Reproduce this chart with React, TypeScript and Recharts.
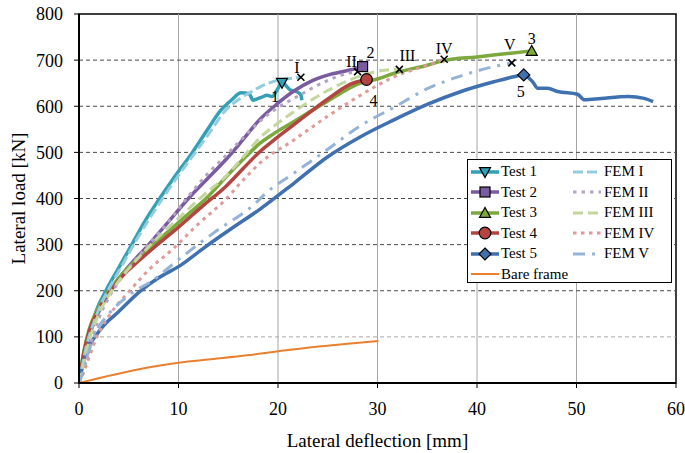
import React from "react";
import {
  Legend,
  Line,
  LineChart,
  ReferenceArea,
  ReferenceDot,
  ReferenceLine,
  XAxis,
  YAxis,
} from "recharts";

// ---------------------------------------------------------------------------
// Data (deflection [mm], load [kN])
// ---------------------------------------------------------------------------

const X_TICKS = [0, 10, 20, 30, 40, 50, 60];
const Y_TICKS = [0, 100, 200, 300, 400, 500, 600, 700, 800];
const GRID_X = [10, 20, 30, 40, 50];
const GRID_Y = [100, 200, 300, 400, 500, 600, 700];

const TEST_1: [number, number][] = [
  [0, 0], [0.3, 45], [0.7, 85], [1.2, 120], [1.8, 160], [2.7, 200], [4, 250],
  [5.3, 300], [6.6, 350], [8.1, 400], [9.7, 450], [11.4, 500], [12.9, 549],
  [14.2, 590], [15.3, 613], [16.3, 629], [17.1, 627], [17.5, 613], [17.9, 616],
  [18.4, 620], [18.9, 624], [19.4, 621], [19.9, 635], [20.4, 651], [21.2, 636],
  [22.0, 630], [22.3, 624], [22.4, 613],
];
const TEST_2: [number, number][] = [
  [0, 0], [0.5, 60], [1, 100], [2, 155], [3, 195], [4.5, 240], [7, 300],
  [9, 350], [11, 400], [13, 445], [15, 490], [16.5, 528], [18.2, 572],
  [19.9, 605], [21.6, 633], [23.3, 654], [24.9, 667], [27.3, 679], [28.5, 686],
];
const TEST_3: [number, number][] = [
  [0, 0], [0.5, 70], [1, 115], [2, 165], [3, 200], [4.5, 240], [6, 272],
  [8, 310], [10, 348], [12, 385], [13, 405], [14.7, 445], [16.5, 485],
  [18.2, 520], [19.9, 545], [21.6, 567], [24.9, 610], [28.3, 650], [30, 659],
  [31.6, 671], [35, 689], [36.7, 699], [40, 707], [43.4, 715], [45.5, 720],
];
const TEST_4: [number, number][] = [
  [0, 0], [0.5, 65], [1, 110], [2, 160], [3, 195], [4.5, 235], [6, 265],
  [8, 302], [10, 338], [12.5, 385], [14.7, 425], [16.5, 465], [18.2, 502],
  [19.9, 532], [21.6, 560], [24.9, 614], [27.3, 648], [28.9, 658],
];
const TEST_5: [number, number][] = [
  [0, 0], [0.4, 40], [0.9, 75], [1.6, 100], [2.5, 125], [4, 155], [6.1, 198],
  [8, 228], [10.2, 255], [12.5, 292], [15, 330], [18.2, 377], [21.6, 433],
  [24.9, 489], [28.3, 534], [31.6, 570], [35, 604], [38.4, 632], [41.7, 653],
  [43.7, 664], [44.7, 668], [45.6, 653], [46.1, 639], [47.1, 639], [48.1, 632],
  [50.1, 626], [50.8, 614], [52.5, 617], [55.2, 621], [56.8, 617], [57.7, 610],
];

const FEM_I: [number, number][] = [
  [0, 0], [0.4, 45], [0.8, 85], [1.3, 120], [2, 160], [2.9, 200], [4.2, 250],
  [5.5, 300], [6.9, 350], [8.4, 400], [10, 450], [11.7, 500], [13.2, 545],
  [14.6, 588], [16, 614], [17.2, 630], [18.2, 642], [19.9, 656], [21.6, 661],
  [22.3, 663],
];
const FEM_II: [number, number][] = [
  [0, 0], [0.5, 30], [1, 70], [2, 140], [3, 185], [4.5, 235], [6.8, 295],
  [9, 350], [11, 405], [13, 455], [14.7, 492], [16.5, 532], [18.2, 568],
  [19.9, 596], [21.6, 617], [24.9, 655], [26.9, 671], [28, 675],
];
const FEM_III: [number, number][] = [
  [0, 0], [0.5, 45], [1, 90], [2, 150], [3, 190], [4.5, 235], [6, 272],
  [8, 317], [10, 357], [12.5, 407], [14.7, 447], [16.5, 490], [18.2, 532],
  [19.9, 562], [21.6, 588], [24.9, 633], [28.3, 666], [30.3, 677], [32.2, 680],
];
const FEM_IV: [number, number][] = [
  [0, 0], [0.6, 30], [1, 55], [1.8, 100], [3, 145], [5.1, 200], [7, 245],
  [9.4, 290], [12, 345], [14.7, 397], [16.5, 440], [18.2, 477], [21.6, 527],
  [24.9, 577], [28.3, 624], [31.6, 663], [35, 689], [36.7, 702],
];
const FEM_V: [number, number][] = [
  [0, 0], [0.5, 30], [1, 70], [1.7, 110], [3, 150], [5, 190], [7.5, 224],
  [10.2, 271], [13.5, 325], [17.9, 393], [18.6, 408], [21.6, 455], [24.9, 505],
  [28.3, 558], [31.6, 597], [35, 638], [38.4, 666], [41.7, 686], [43.5, 694],
];
const BARE_FRAME: [number, number][] = [
  [0, 0], [3.5, 18], [6.8, 33], [10, 44], [13.5, 52], [16.9, 60], [20.1, 69],
  [23.6, 78], [27, 85], [30.1, 91],
];

// peak markers of the tests and end points of the FE runs
const TEST_PEAKS: [number, number][] = [
  [20.4, 651], [28.5, 686], [45.5, 720], [28.9, 658], [44.7, 668],
];
const TEST_PEAK_LABELS = ["1", "2", "3", "4", "5"];
const FEM_ENDS: [number, number][] = [
  [22.3, 663], [28, 675], [32.2, 680], [36.7, 702], [43.5, 694],
];
const FEM_END_LABELS = ["I", "II", "III", "IV", "V"];

// ---------------------------------------------------------------------------
// Styles
// ---------------------------------------------------------------------------

const FONT = "'Liberation Serif', 'Times New Roman', serif";

type MarkerKind = "triDown" | "square" | "triUp" | "circle" | "diamond";

const TESTS = [
  { name: "Test 1", data: TEST_1, color: "#33A0B6", marker: "triDown" as MarkerKind },
  { name: "Test 2", data: TEST_2, color: "#7A5BA0", marker: "square" as MarkerKind },
  { name: "Test 3", data: TEST_3, color: "#7DA83E", marker: "triUp" as MarkerKind },
  { name: "Test 4", data: TEST_4, color: "#B3443F", marker: "circle" as MarkerKind },
  { name: "Test 5", data: TEST_5, color: "#3F70B0", marker: "diamond" as MarkerKind },
];

const FEMS = [
  { name: "FEM I", data: FEM_I, color: "#93CDDD", dash: "10 4" },
  { name: "FEM II", data: FEM_II, color: "#B3A2C7", dash: "3.5 5" },
  { name: "FEM III", data: FEM_III, color: "#C3D69B", dash: "10 5" },
  { name: "FEM IV", data: FEM_IV, color: "#E09A98", dash: "3.5 4.5" },
  { name: "FEM V", data: FEM_V, color: "#95B3D7", dash: "12 7 3 7" },
];

const BARE = { name: "Bare frame", data: BARE_FRAME, color: "#E8802F" };

// label offsets (px) relative to the marker
const TEST_LABEL_OFFSET = [[-7, 14], [8, -14], [0, -12], [7, 21], [-3, 17]];
const FEM_LABEL_OFFSET = [[-4, -10], [-6, -10], [8, -14], [0, -11], [-2, -18]];

const toPoints = (rows: [number, number][]) => rows.map(([x, y]) => ({ x, y }));

function Marker({ kind, cx, cy, fill }: { kind: MarkerKind; cx: number; cy: number; fill: string }) {
  const h = 5.5;
  const common = { fill, stroke: "#000", strokeWidth: 1.2 };
  switch (kind) {
    case "triDown":
      return <polygon points={`${cx - h},${cy - h * 0.8} ${cx + h},${cy - h * 0.8} ${cx},${cy + h}`} {...common} />;
    case "triUp":
      return <polygon points={`${cx - h},${cy + h * 0.8} ${cx + h},${cy + h * 0.8} ${cx},${cy - h}`} {...common} />;
    case "square":
      return <rect x={cx - 5} y={cy - 5} width={10} height={10} {...common} />;
    case "circle":
      return <circle cx={cx} cy={cy} r={5.8} {...common} />;
    default:
      return <polygon points={`${cx},${cy - 6} ${cx + 6},${cy} ${cx},${cy + 6} ${cx - 6},${cy}`} {...common} />;
  }
}

function Cross({ cx, cy }: { cx: number; cy: number }) {
  const s = 3.5;
  return (
    <g stroke="#000" strokeWidth={1.6}>
      <line x1={cx - s} y1={cy - s} x2={cx + s} y2={cy + s} />
      <line x1={cx - s} y1={cy + s} x2={cx + s} y2={cy - s} />
    </g>
  );
}

function LegendBox() {
  const row = (i: number) => ({ position: "absolute" as const, top: 1.25 + i * 20.5, height: 20.5, display: "flex", alignItems: "center" });
  const text = { fontFamily: FONT, fontSize: 15, color: "#000", marginLeft: 2, whiteSpace: "nowrap" as const };
  return (
    <div
      style={{
        position: "relative",
        width: 205,
        height: 124,
        boxSizing: "border-box",
        border: "1.5px solid #000",
        background: "#fff",
      }}
    >
      {TESTS.map((s, i) => (
        <div key={s.name} style={{ ...row(i), left: 3 }}>
          <svg width={28} height={14}>
            <line x1={0} y1={7} x2={28} y2={7} stroke={s.color} strokeWidth={3.5} />
            <Marker kind={s.marker} cx={14} cy={7} fill={s.color} />
          </svg>
          <span style={text}>{s.name}</span>
        </div>
      ))}
      <div style={{ ...row(5), left: 3 }}>
        <svg width={28} height={14}>
          <line x1={0} y1={7} x2={28} y2={7} stroke={BARE.color} strokeWidth={2} />
        </svg>
        <span style={text}>{BARE.name}</span>
      </div>
      {FEMS.map((s, i) => (
        <div key={s.name} style={{ ...row(i), left: 105 }}>
          <svg width={28} height={14}>
            <line x1={0} y1={7} x2={28} y2={7} stroke={s.color} strokeWidth={3} strokeDasharray={s.dash} />
          </svg>
          <span style={{ ...text, marginLeft: 3 }}>{s.name}</span>
        </div>
      ))}
    </div>
  );
}

export default function App() {
  const tick = { fill: "#000", fontSize: 18, fontFamily: FONT };
  return (
    <div>
      <style>{"html,body{margin:0;padding:0;overflow:hidden;background:#fff}"}</style>
      <LineChart width={685} height={453} margin={{ top: 14, right: 9, left: 0, bottom: 0 }}>
        <XAxis
          type="number"
          dataKey="x"
          domain={[0, 60]}
          ticks={X_TICKS}
          allowDataOverflow
          height={70}
          tick={tick}
          tickSize={5}
          tickMargin={14}
          axisLine={{ stroke: "#000", strokeWidth: 2 }}
          tickLine={{ stroke: "#000" }}
          label={{
            value: "Lateral deflection [mm]",
            position: "insideBottom",
            offset: 6,
            style: { fill: "#000", fontSize: 19, fontFamily: FONT },
          }}
        />
        <YAxis
          type="number"
          domain={[0, 800]}
          ticks={Y_TICKS}
          allowDataOverflow
          width={79}
          tick={tick}
          tickSize={5}
          tickMargin={11}
          axisLine={{ stroke: "#000", strokeWidth: 2 }}
          tickLine={{ stroke: "#000" }}
          label={{
            value: "Lateral load [kN]",
            angle: -90,
            position: "center",
            dx: -21,
            style: { fill: "#000", fontSize: 19, fontFamily: FONT, textAnchor: "middle" },
          }}
        />

        {GRID_X.map((v) => (
          <ReferenceLine key={`gx${v}`} x={v} stroke="#A6A6A6" strokeWidth={1} />
        ))}
        {GRID_Y.map((v) => (
          <ReferenceLine
            key={`gy${v}`}
            y={v}
            stroke={v === 100 ? "#A8A8A8" : "#4A4A4A"}
            strokeWidth={1}
            strokeDasharray="4 3"
          />
        ))}
        <ReferenceArea x1={0} x2={60} y1={0} y2={800} fill="none" stroke="#000" strokeWidth={1.5} />

        {TESTS.map((s) => (
          <Line
            key={s.name}
            data={toPoints(s.data)}
            dataKey="y"
            name={s.name}
            type="monotone"
            stroke={s.color}
            strokeWidth={3.5}
            dot={false}
            activeDot={false}
            isAnimationActive={false}
          />
        ))}
        {FEMS.map((s) => (
          <Line
            key={s.name}
            data={toPoints(s.data)}
            dataKey="y"
            name={s.name}
            type="monotone"
            stroke={s.color}
            strokeWidth={3}
            strokeDasharray={s.dash}
            dot={false}
            activeDot={false}
            isAnimationActive={false}
          />
        ))}
        <Line
          data={toPoints(BARE.data)}
          dataKey="y"
          name={BARE.name}
          type="monotone"
          stroke={BARE.color}
          strokeWidth={2}
          dot={false}
          activeDot={false}
          isAnimationActive={false}
        />

        {FEM_ENDS.map(([x, y], i) => (
          <ReferenceDot
            key={`fe${i}`}
            x={x}
            y={y}
            r={4}
            shape={(p: any) => (
              <g>
                <Cross cx={p.cx} cy={p.cy} />
                <text
                  x={p.cx + FEM_LABEL_OFFSET[i][0]}
                  y={p.cy + FEM_LABEL_OFFSET[i][1]}
                  textAnchor="middle"
                  dominantBaseline="central"
                  fontFamily={FONT}
                  fontSize={16}
                  fill="#000"
                >
                  {FEM_END_LABELS[i]}
                </text>
              </g>
            )}
          />
        ))}
        {TEST_PEAKS.map(([x, y], i) => (
          <ReferenceDot
            key={`tp${i}`}
            x={x}
            y={y}
            r={6}
            shape={(p: any) => (
              <g>
                <Marker kind={TESTS[i].marker} cx={p.cx} cy={p.cy} fill={TESTS[i].color} />
                <text
                  x={p.cx + TEST_LABEL_OFFSET[i][0]}
                  y={p.cy + TEST_LABEL_OFFSET[i][1]}
                  textAnchor="middle"
                  dominantBaseline="central"
                  fontFamily={FONT}
                  fontSize={16}
                  fill="#000"
                >
                  {TEST_PEAK_LABELS[i]}
                </text>
              </g>
            )}
          />
        ))}

        <Legend
          layout="vertical"
          align="center"
          verticalAlign="middle"
          wrapperStyle={{ left: 467, top: 159, width: 205, height: 124 }}
          content={() => <LegendBox />}
        />
      </LineChart>
    </div>
  );
}
